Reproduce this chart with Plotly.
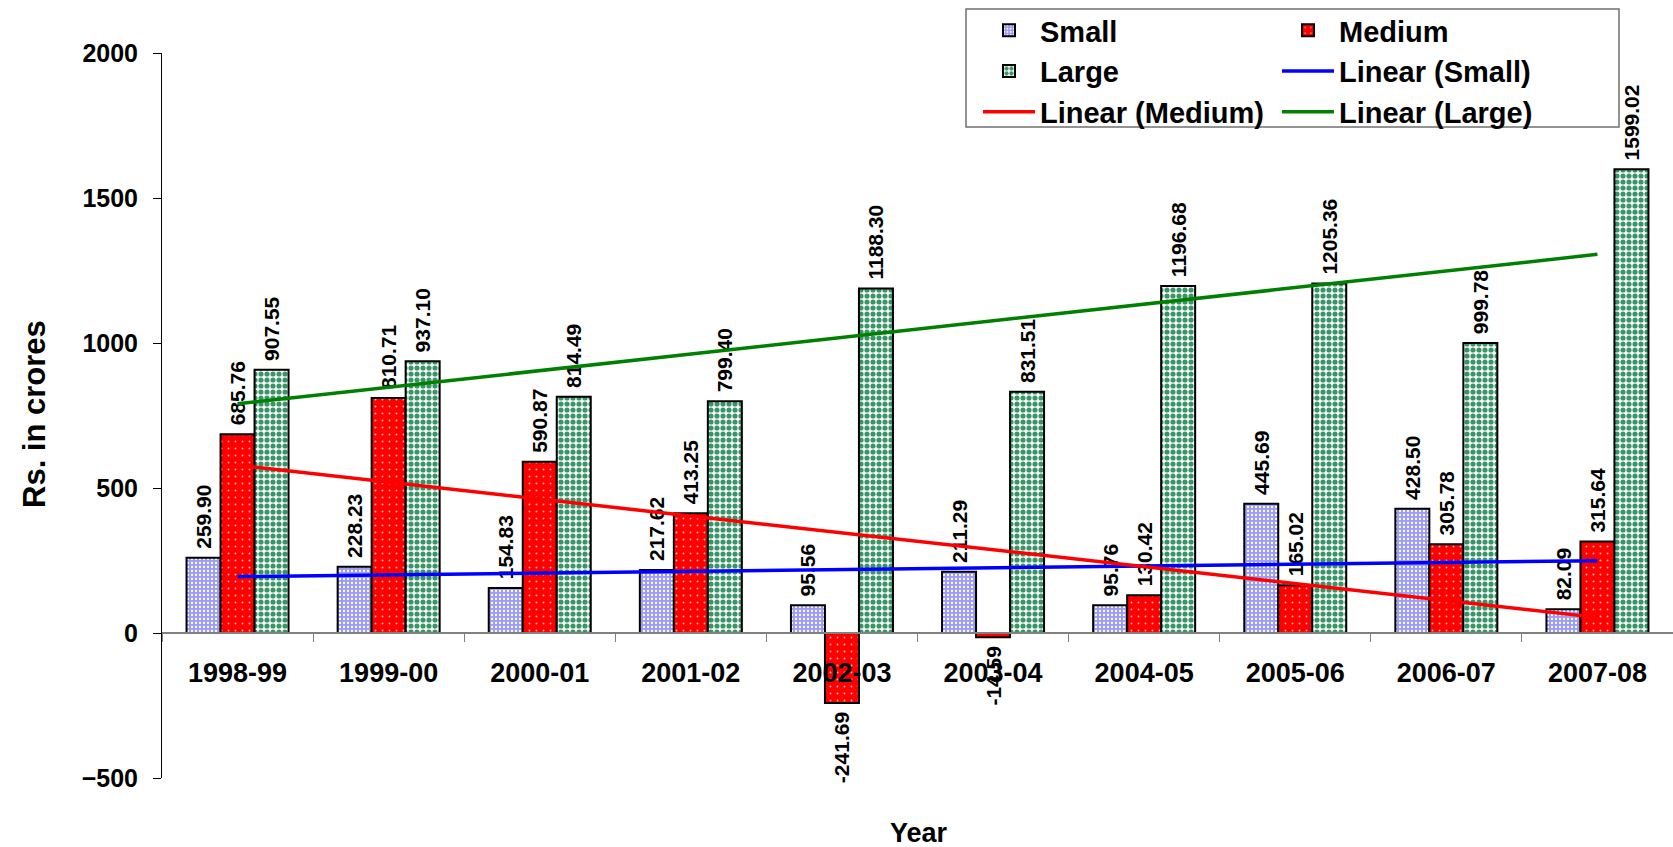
import numpy as np
import plotly.graph_objects as go

# Net profit by enterprise size, Rs. in crores
years = ["1998-99", "1999-00", "2000-01", "2001-02", "2002-03",
         "2003-04", "2004-05", "2005-06", "2006-07", "2007-08"]
small = [259.90, 228.23, 154.83, 217.62, 95.56, 211.29, 95.76, 445.69, 428.50, 82.09]
medium = [685.76, 810.71, 590.87, 413.25, -241.69, -14.59, 130.42, 165.02, 305.78, 315.64]
large = [907.55, 937.10, 814.49, 799.40, 1188.30, 831.51, 1196.68, 1205.36, 999.78, 1599.02]

y_ticks = [-500, 0, 500, 1000, 1500, 2000]

FONT = "Liberation Sans, Arial, sans-serif"
W, H = 1673, 847
L, R, T, B = 162, 0, 53, 69
Y_MIN, Y_MAX = -500, 2000
NBSP = "\u00a0"


def trend(values):
    x = np.arange(1, len(values) + 1)
    slope, icpt = np.polyfit(x, values, 1)
    return slope * x + icpt


def label(v):
    # keep a small gap between the bar end and its rotated value label
    s = f"{v:.2f}"
    return NBSP + s if v >= 0 else s + NBSP


def bar(name, values, bg, fg, size, solidity, legend):
    return go.Bar(
        name=name, x=years, y=values,
        marker=dict(
            color=bg,
            line=dict(color="black", width=2),
            pattern=dict(shape=".", fgcolor=fg, bgcolor=bg,
                         size=size, solidity=solidity, fillmode="replace"),
        ),
        text=[label(v) for v in values],
        textposition="outside", textangle=-90, constraintext="none",
        cliponaxis=False,
        textfont=dict(family=FONT, size=21, color="black", weight="bold"),
        legend=legend,
    )


fig = go.Figure()
fig.add_trace(bar("Small", small, "#9c9cf5", "white", 4, 0.25, "legend"))
fig.add_trace(bar("Medium", medium, "#ff0000", "#ffb0b0", 7, 0.06, "legend2"))
fig.add_trace(bar("Large", large, "#ffffff", "#3a9467", 6, 0.58, "legend"))

for name, vals, col, lg in [("Linear (Small)", small, "#0000ff", "legend2"),
                            ("Linear (Medium)", medium, "#ff0000", "legend"),
                            ("Linear (Large)", large, "#008000", "legend2")]:
    fig.add_trace(go.Scatter(name=name, x=years, y=trend(vals), mode="lines",
                             line=dict(color=col, width=3.5), legend=lg,
                             cliponaxis=False))

plot_h = H - T - B
plot_w = W - L - R


def py(px):
    return (H - B - px) / plot_h


def pxf(px):
    return (px - L) / plot_w


zero_pos = (0 - Y_MIN) / (Y_MAX - Y_MIN)
legend_font = dict(family=FONT, size=29, color="black", weight="bold")

fig.update_layout(
    width=W, height=H,
    margin=dict(l=L, r=R, t=T, b=B),
    paper_bgcolor="white", plot_bgcolor="white",
    barmode="group", bargap=0.325, bargroupgap=0,
    showlegend=True,
    legend=dict(x=pxf(978), y=py(5), xanchor="left", yanchor="top",
                orientation="v", font=legend_font, bgcolor="rgba(0,0,0,0)",
                traceorder="normal", itemwidth=52),
    legend2=dict(x=pxf(1277), y=py(5), xanchor="left", yanchor="top",
                 orientation="v", font=legend_font, bgcolor="rgba(0,0,0,0)",
                 traceorder="normal", itemwidth=52),
    xaxis=dict(
        type="category", anchor="free", position=zero_pos,
        showline=True, linecolor="#808080", linewidth=1.5,
        ticks="outside", tickson="boundaries", ticklen=8, tickcolor="#808080",
        tickfont=dict(family=FONT, size=27, color="black", weight="bold"),
        ticklabelstandoff=16, showgrid=False, zeroline=False,
    ),
    yaxis=dict(
        range=[Y_MIN, Y_MAX], tickvals=y_ticks,
        showline=True, linecolor="black", linewidth=1,
        ticks="outside", ticklen=8, tickcolor="black",
        tickfont=dict(family=FONT, size=25, color="black", weight="bold"),
        ticklabelstandoff=10, showgrid=False, zeroline=False,
    ),
    shapes=[dict(type="rect", xref="paper", yref="paper",
                 x0=pxf(966), x1=pxf(1619), y0=py(127), y1=py(9),
                 line=dict(color="#707070", width=1.5), layer="above")],
    annotations=[
        dict(text="Rs. in crores", xref="paper", yref="paper",
             x=pxf(34), y=py(414), xanchor="center", yanchor="middle",
             textangle=-90, showarrow=False,
             font=dict(family=FONT, size=31, color="black", weight="bold")),
        dict(text="Year", xref="paper", yref="paper",
             x=pxf(919), y=py(833), xanchor="center", yanchor="middle",
             showarrow=False,
             font=dict(family=FONT, size=27, color="black", weight="bold")),
    ],
)

fig.write_html("out.html")
